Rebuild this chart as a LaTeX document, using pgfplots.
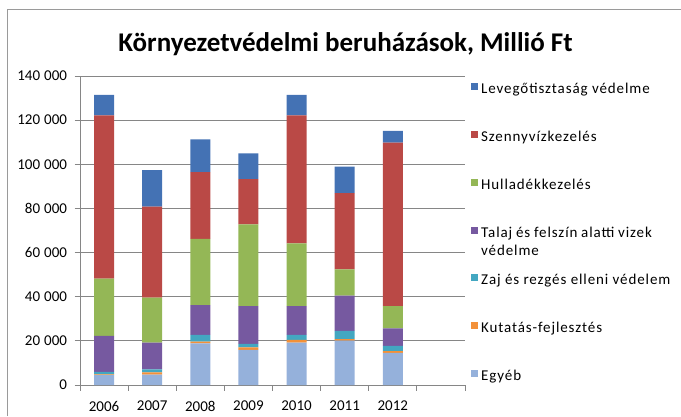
\documentclass[border=0pt]{standalone}
\usepackage{pgfplots}
\pgfplotsset{compat=1.18}
\usepackage{pgfplotstable}
\usepackage{fontspec}
\setmainfont{Carlito}
\newfontfamily\legfont[LetterSpace=6]{Carlito}
\definecolor{cLev}{HTML}{4472B4}
\definecolor{cSz}{HTML}{BA4946}
\definecolor{cHu}{HTML}{94B756}
\definecolor{cTa}{HTML}{7659A0}
\definecolor{cZa}{HTML}{43A7C1}
\definecolor{cKu}{HTML}{F39139}
\definecolor{cEg}{HTML}{95B1DB}
\definecolor{axgray}{HTML}{868686}
\definecolor{bordergray}{HTML}{9A9A9A}

\pgfplotstableread{
x egyeb kut zaj talaj hull szenny lev
0 4500 300 1200 16300 25900 74000 9200
1 4700 1000 1400 12100 20400 41200 16600
2 18900 700 3100 13500 30000 30200 14900
3 15900 1200 1500 17100 37100 20500 11700
4 19200 1200 2300 13000 28500 58000 9200
5 20100 700 3700 16000 11900 34500 12000
6 14600 800 2300 8000 10000 74100 5300
}\data

\begin{document}
\begin{tikzpicture}[x=1pt,y=1pt]
\path[use as bounding box] (0,0) rectangle (681,416);
\draw[bordergray, line width=1pt] (7,0) -- (7,406) -- (681,406);
\node[font=\bfseries\fontsize{27}{31}\selectfont, anchor=base] at (345.5,364) {Környezetvédelmi beruházások, Millió Ft};
\begin{axis}[
  at={(80pt,31pt)}, anchor=south west,
  scale only axis, width=385pt, height=309pt,
  ybar stacked, bar width=20pt,
  xmin=-0.5, xmax=7.5, ymin=0, ymax=140000,
  xtick={-0.5,0.5,...,7.5},
  x tick label as interval,
  xticklabels={2006,2007,2008,2009,2010,2011,2012,{}},
  ytick={0,20000,...,140000},
  ymajorgrids, grid style={axgray, line width=0.8pt},
  axis x line*=bottom, axis y line*=left,
  axis line style={axgray, line width=0.8pt},
  tick align=outside, major tick length=5.5pt,
  tick style={axgray, line width=0.8pt},
  ticklabel style={font=\fontsize{15}{17}\selectfont, text=black},
  yticklabel style={xshift=-4pt},
  xticklabel style={yshift=-7pt},
  /pgf/number format/.cd, fixed, 1000 sep={\hspace{4pt}}, assume math mode=true, /pgfplots/.cd,
  scaled y ticks=false,
  reverse legend,
  legend image code/.code={\fill[#1] (0pt,0pt) rectangle (7pt,7pt);},
  legend style={at={(axis description cs:1.0156,0.979)}, anchor=north west,
    draw=none, fill=none, inner sep=0pt, row sep=32.8pt, column sep=3pt,
    font=\legfont\fontsize{15}{18}\selectfont,
    nodes={inner sep=0pt, text height=11pt, text depth=4pt}},
  legend cell align=left,
]
\addplot[fill=cEg, draw=none] table[x=x, y=egyeb] {\data};
\addlegendentry{Egyéb}
\addplot[fill=cKu, draw=none] table[x=x, y=kut] {\data};
\addlegendentry{Kutatás-fejlesztés}
\addplot[fill=cZa, draw=none] table[x=x, y=zaj] {\data};
\addlegendentry{Zaj és rezgés elleni védelem}
\addplot[fill=cTa, draw=none] table[x=x, y=talaj] {\data};
\addlegendentry{\parbox[t]{6cm}{Talaj és felszín alatti vizek\\védelme}}
\addplot[fill=cHu, draw=none] table[x=x, y=hull] {\data};
\addlegendentry{Hulladékkezelés}
\addplot[fill=cSz, draw=none] table[x=x, y=szenny] {\data};
\addlegendentry{Szennyvízkezelés}
\addplot[fill=cLev, draw=none] table[x=x, y=lev] {\data};
\addlegendentry{Levegőtisztaság védelme}
\end{axis}
\end{tikzpicture}
\end{document}
